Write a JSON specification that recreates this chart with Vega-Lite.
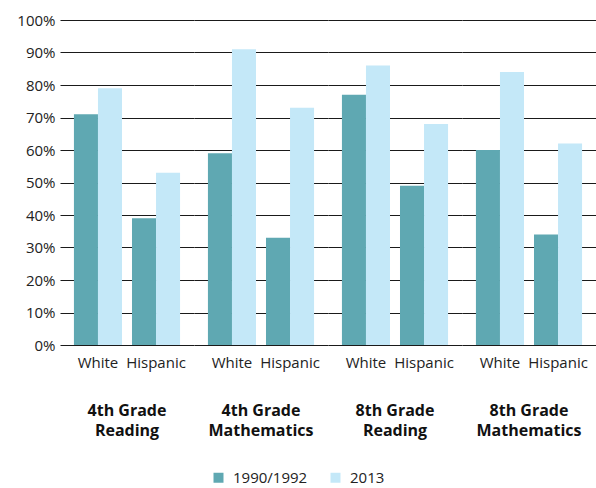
{
  "$schema": "https://vega.github.io/schema/vega-lite/v6.json",
  "padding": {"left": 16, "top": 13, "right": 0, "bottom": 0},
  "background": "white",
  "data": {"values": [
    {"grade": "4th Grade|Reading", "order": 1, "race": "White", "year": "1990/1992", "pct": 71},
    {"grade": "4th Grade|Reading", "order": 1, "race": "White", "year": "2013", "pct": 79},
    {"grade": "4th Grade|Reading", "order": 1, "race": "Hispanic", "year": "1990/1992", "pct": 39},
    {"grade": "4th Grade|Reading", "order": 1, "race": "Hispanic", "year": "2013", "pct": 53},
    {"grade": "4th Grade|Mathematics", "order": 2, "race": "White", "year": "1990/1992", "pct": 59},
    {"grade": "4th Grade|Mathematics", "order": 2, "race": "White", "year": "2013", "pct": 91},
    {"grade": "4th Grade|Mathematics", "order": 2, "race": "Hispanic", "year": "1990/1992", "pct": 33},
    {"grade": "4th Grade|Mathematics", "order": 2, "race": "Hispanic", "year": "2013", "pct": 73},
    {"grade": "8th Grade|Reading", "order": 3, "race": "White", "year": "1990/1992", "pct": 77},
    {"grade": "8th Grade|Reading", "order": 3, "race": "White", "year": "2013", "pct": 86},
    {"grade": "8th Grade|Reading", "order": 3, "race": "Hispanic", "year": "1990/1992", "pct": 49},
    {"grade": "8th Grade|Reading", "order": 3, "race": "Hispanic", "year": "2013", "pct": 68},
    {"grade": "8th Grade|Mathematics", "order": 4, "race": "White", "year": "1990/1992", "pct": 60},
    {"grade": "8th Grade|Mathematics", "order": 4, "race": "White", "year": "2013", "pct": 84},
    {"grade": "8th Grade|Mathematics", "order": 4, "race": "Hispanic", "year": "1990/1992", "pct": 34},
    {"grade": "8th Grade|Mathematics", "order": 4, "race": "Hispanic", "year": "2013", "pct": 62}
  ]},
  "facet": {
    "column": {
      "field": "grade",
      "sort": {"field": "order"},
      "title": null,
      "header": {
        "labelOrient": "bottom",
        "labelExpr": "split(datum.value, '|')",
        "labelFont": "Open Sans",
        "labelFontSize": 16,
        "labelFontWeight": "bold",
        "labelColor": "#111",
        "labelPadding": 33,
        "labelLineHeight": 20
      }
    }
  },
  "spacing": 0,
  "resolve": {"scale": {"x": "shared"}},
  "spec": {
    "width": 134,
    "height": 325,
    "mark": {"type": "bar"},
    "encoding": {
      "x": {
        "field": "race",
        "type": "nominal",
        "sort": ["White", "Hispanic"],
        "scale": {"paddingInner": 0.172, "paddingOuter": 0.24},
        "axis": {"title": null, "labelAngle": 0, "ticks": false, "domain": false, "labelFont": "Open Sans", "labelFontSize": 15, "labelColor": "#222", "labelPadding": 10}
      },
      "xOffset": {"field": "year", "type": "nominal", "scale": {"paddingInner": 0, "paddingOuter": 0}},
      "y": {
        "field": "pct",
        "type": "quantitative",
        "scale": {"domain": [0, 100]},
        "axis": {"title": null, "values": [0,10,20,30,40,50,60,70,80,90,100], "labelExpr": "datum.value + '%'", "ticks": false, "domain": false, "grid": true, "gridColor": "#1a1a1a", "gridOpacity": 1, "gridWidth": 1, "labelFont": "Open Sans", "labelFontSize": 15, "labelColor": "#222", "labelPadding": 5}
      },
      "color": {
        "field": "year",
        "type": "nominal",
        "scale": {"domain": ["1990/1992", "2013"], "range": ["#5fa8b2", "#c4e8f8"]},
        "legend": {"title": null, "orient": "none", "legendX": 151, "legendY": 450, "direction": "horizontal", "symbolType": "square", "symbolSize": 100, "symbolStrokeWidth": 0, "labelFont": "Open Sans", "labelFontSize": 15, "labelColor": "#222", "labelOffset": 7, "columnPadding": 20}
      }
    }
  },
  "config": {
    "view": {"stroke": null},
    "axis": {"gridColor": "#1a1a1a"}
  }
}
